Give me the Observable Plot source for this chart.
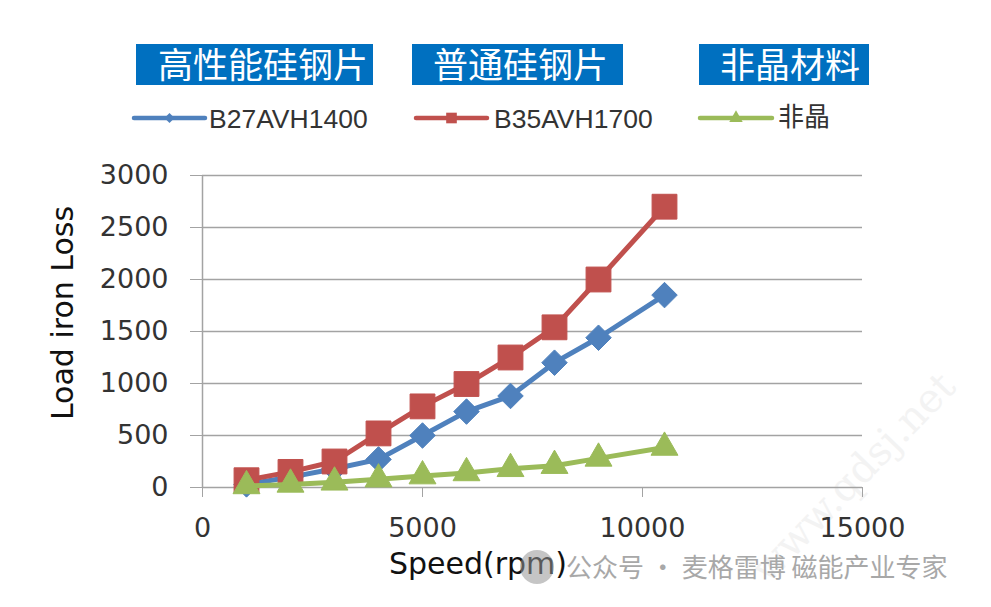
<!DOCTYPE html>
<html>
<head>
<meta charset="utf-8">
<script src="https://cdn.jsdelivr.net/npm/d3@7"></script>
<script src="https://cdn.jsdelivr.net/npm/@observablehq/plot@0.6"></script>
<style>
  html, body { margin: 0; padding: 0; background: #fff; }
  #wrap { position: relative; width: 991px; height: 607px; overflow: hidden; }
  #wrap svg { position: absolute; left: 0; top: 0; }
</style>
</head>
<body>
<div id="wrap"></div>
<script>
// ---- data ----
const speed = [1000, 2000, 3000, 4000, 5000, 6000, 7000, 8000, 9000, 10500];
const b27avh1400 = [30, 100, 180, 270, 500, 730, 880, 1200, 1440, 1850];
const b35avh1700 = [70, 150, 250, 520, 780, 995, 1250, 1540, 2000, 2700];
const amorphous = [15, 30, 50, 80, 110, 140, 180, 210, 280, 385];
const seriesNames = ["B27AVH1400", "B35AVH1700", "非晶"];
const seriesColors = ["#4F81BD", "#C0504D", "#9BBB59"];
const seriesSymbols = ["diamond2", "square", "triangle"];
const groupTitles = ["高性能硅钢片", "普通硅钢片", "非晶材料"];
const xTicks = [0, 5000, 10000, 15000];
const yTicks = [0, 500, 1000, 1500, 2000, 2500, 3000];
const xTitle = "Speed(rpm)";
const yTitle = "Load iron Loss";
const watermark = "公众号 · 麦格雷博 磁能产业专家";
const siteMark = "www.qdsj.net";

const seriesValues = [b27avh1400, b35avh1700, amorphous];
const rows = seriesValues.map((vals, i) => speed.map((s, j) => ({speed: s, loss: vals[j], series: seriesNames[i]})));

const symR = [11.5, 14, 10];

const marks = [
  Plot.ruleY(yTicks, {stroke: "#a3a3a3", strokeWidth: 1.5}),
  Plot.ruleX([0], {stroke: "#a3a3a3", strokeWidth: 1.5}),
  Plot.axisY({ticks: yTicks, tickSize: 12, tickPadding: 22, stroke: "#a3a3a3", color: "#333", fontSize: 27, label: null, tickFormat: d => String(d)}),
  Plot.axisX({ticks: xTicks, tickSize: 10, tickPadding: 20, stroke: "#a3a3a3", color: "#333", fontSize: 27, label: null, tickFormat: d => String(d)})
];
rows.forEach((r, i) => {
  marks.push(Plot.line(r, {x: "speed", y: "loss", stroke: seriesColors[i], strokeWidth: 5, strokeLinejoin: "round"}));
  marks.push(Plot.dot(r, {x: "speed", y: "loss", symbol: () => seriesSymbols[i], r: symR[i], fill: seriesColors[i], stroke: seriesColors[i], strokeWidth: 1}));
});

const chart = Plot.plot({
  width: 991,
  height: 607,
  marginLeft: 202,
  marginRight: 129,
  marginTop: 175,
  marginBottom: 120,
  style: {fontFamily: "DejaVu Sans", background: "transparent", overflow: "visible"},
  x: {domain: [0, 15000], type: "linear"},
  y: {domain: [0, 3000], type: "linear"},
  symbol: {type: "identity"},
  marks
});

const wrap = document.getElementById("wrap");

// faint diagonal watermark (background)
const bg = d3.select(wrap).append("svg").attr("width", 991).attr("height", 607);
bg.append("text").attr("transform", "translate(768,585) rotate(-46)")
  .attr("font-family", "DejaVu Serif").attr("font-size", 40).attr("fill", "#f3f3f3").text(siteMark);

wrap.appendChild(chart);

// overlay: titles, legend, axis titles
const ov = d3.select(wrap).append("svg").attr("width", 991).attr("height", 607);

const boxes = [{x: 136, w: 237, tx: 158}, {x: 412, w: 211, tx: 433}, {x: 699, w: 170, tx: 720}];
boxes.forEach((b, i) => {
  ov.append("rect").attr("x", b.x).attr("y", 44).attr("width", b.w).attr("height", 41).attr("fill", "#0070C0");
  ov.append("text").attr("x", b.tx).attr("y", 78).attr("font-family", "Noto Sans CJK SC").attr("font-size", 35)
    .attr("fill", "#fff").text(groupTitles[i]);
});

const leg = [{x0: 134, x1: 205, tx: 209}, {x0: 416, x1: 487, tx: 494}, {x0: 700, x1: 772, tx: 778}];
const legSymR = [4.5, 6, 5];
leg.forEach((l, i) => {
  const g = ov.append("g");
  g.append("line").attr("x1", l.x0).attr("x2", l.x1).attr("y1", 118).attr("y2", 118)
    .attr("stroke", seriesColors[i]).attr("stroke-width", 4.5).attr("stroke-linecap", "round");
  const sym = [d3.symbolDiamond2, d3.symbolSquare, d3.symbolTriangle][i];
  g.append("path").attr("transform", `translate(${(l.x0 + l.x1) / 2},118)`)
    .attr("d", d3.symbol(sym, Math.PI * legSymR[i] * legSymR[i])()).attr("fill", seriesColors[i]);
  const t = g.append("text").attr("x", l.tx).attr("fill", "#333");
  if (i < 2) t.attr("y", 128).attr("font-family", "Liberation Sans").attr("font-size", 26.5);
  else t.attr("y", 126).attr("font-family", "Noto Sans CJK SC").attr("font-size", 26);
  t.text(seriesNames[i]);
});

ov.append("text").attr("transform", "translate(73,313) rotate(-90)").attr("text-anchor", "middle")
  .attr("font-family", "DejaVu Sans").attr("font-size", 30).attr("fill", "#111").text(yTitle);
ov.append("text").attr("x", 478).attr("y", 574).attr("text-anchor", "middle")
  .attr("font-family", "DejaVu Sans").attr("font-size", 30).attr("fill", "#111").text(xTitle);

// wechat-style watermark
ov.append("circle").attr("cx", 537).attr("cy", 567).attr("r", 17).attr("fill", "rgba(150,150,150,0.55)");
ov.append("text").attr("x", 566).attr("y", 577).attr("font-family", "Noto Sans CJK SC").attr("font-size", 26)
  .attr("fill", "#a8a8a8").text(watermark);
</script>
</body>
</html>
